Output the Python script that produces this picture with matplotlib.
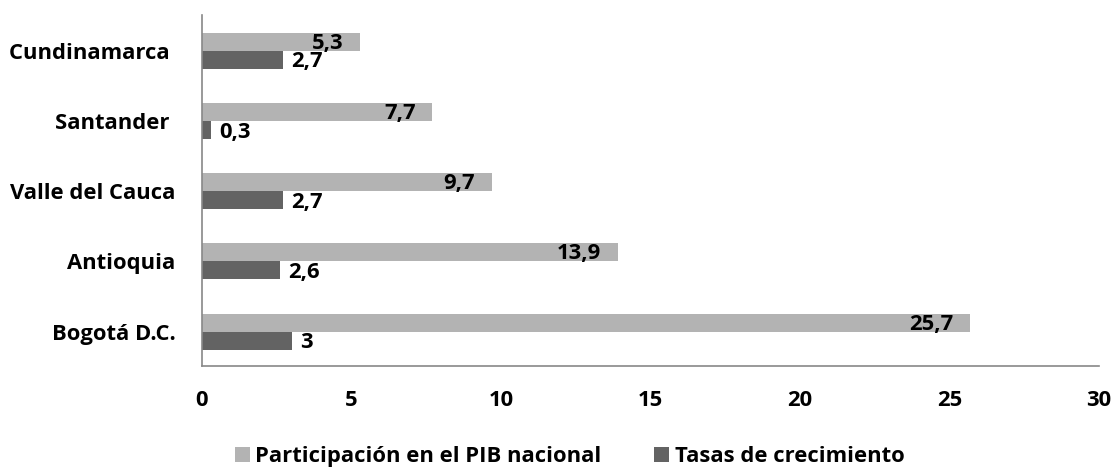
import matplotlib.pyplot as plt
import numpy as np

departamentos = ["Bogotá D.C.", "Antioquia", "Valle del Cauca", "Santander ", "Cundinamarca "]
participacion = [25.7, 13.9, 9.7, 7.7, 5.3]
crecimiento = [3, 2.6, 2.7, 0.3, 2.7]

plt.rcParams['font.family'] = ['Open Sans', 'DejaVu Sans']
plt.rcParams['font.weight'] = 'bold'

fig = plt.figure(figsize=(11.15, 4.68), dpi=100)
ax = fig.add_axes([202/1115, 102/468, 897/1115, 351/468])

y = np.arange(len(departamentos))
h = 0.256
b1 = ax.barh(y + h/2, participacion, height=h, color="#b3b3b3",
             label="Participación en el PIB nacional")
b2 = ax.barh(y - h/2, crecimiento, height=h, color="#636363",
             label="Tasas de crecimiento")

def fmt(v):
    return f"{v:g}".replace(".", ",")

fs = 15.8
for rect, v in zip(b1, participacion):
    ax.annotate(fmt(v), (v, rect.get_y() + rect.get_height()/2),
                xytext=(-12, -1), textcoords="offset points", ha="right", va="center",
                fontsize=fs, fontweight="bold")
for rect, v in zip(b2, crecimiento):
    ax.annotate(fmt(v), (v, rect.get_y() + rect.get_height()/2),
                xytext=(6, -1.5), textcoords="offset points", ha="left", va="center",
                fontsize=fs, fontweight="bold")

ax.set_xlim(0, 30)
ax.set_ylim(-0.49, 4.51)
ax.set_xticks([0, 5, 10, 15, 20, 25, 30])
ax.set_yticks(y)
ax.set_yticklabels(departamentos)
ax.tick_params(axis="both", length=0, labelsize=fs)
ax.tick_params(axis="x", pad=17)
ax.tick_params(axis="y", pad=19)
for s in ["top", "right"]:
    ax.spines[s].set_visible(False)
for s in ["left", "bottom"]:
    ax.spines[s].set_color("#888888")
    ax.spines[s].set_linewidth(1.2)

fig.legend(handles=[b1, b2], loc="lower center", bbox_to_anchor=(0.511, -0.04),
           ncol=2, frameon=False, fontsize=fs, handlelength=0.68, handleheight=0.68,
           handletextpad=0.27, columnspacing=2.4)

fig.savefig("out.png", dpi=100)
